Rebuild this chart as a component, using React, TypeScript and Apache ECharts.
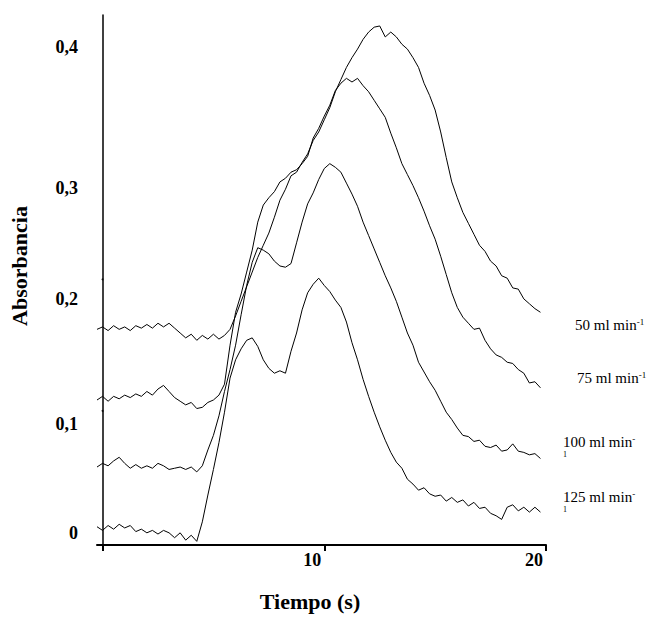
import React, { useEffect, useRef } from "react";
import * as echarts from "echarts";

// Sampling times (s)
const TIME = [
  -0.25, 0, 0.25, 0.5, 0.75, 1, 1.25, 1.5, 1.75, 2, 2.25, 2.5, 2.75, 3, 3.25, 3.5, 3.75, 4, 4.25, 4.5, 4.75,
  5, 5.25, 5.5, 5.75, 6, 6.25, 6.5, 6.75, 7, 7.25, 7.5, 7.75, 8, 8.25, 8.5, 8.75, 9, 9.25, 9.5, 9.75,
  10, 10.25, 10.5, 10.75, 11, 11.25, 11.5, 11.75, 12, 12.25, 12.5, 12.75, 13, 13.25, 13.5, 13.75, 14, 14.25, 14.5, 14.75,
  15, 15.25, 15.5, 15.75, 16, 16.25, 16.5, 16.75, 17, 17.25, 17.5, 17.75, 18, 18.25, 18.5, 18.75, 19, 19.25, 19.5, 19.75,
];

// Absorbance, 50 ml/min
const FLOW_50 = [
  0.167, 0.169, 0.166, 0.170, 0.167, 0.169, 0.166, 0.170, 0.168, 0.171,
  0.168, 0.172, 0.169, 0.172, 0.168, 0.164, 0.160, 0.163, 0.158, 0.162,
  0.159, 0.163, 0.159, 0.162, 0.167, 0.178, 0.190, 0.202, 0.214, 0.226,
  0.236, 0.246, 0.259, 0.273, 0.282, 0.293, 0.296, 0.304, 0.311, 0.322,
  0.329, 0.339, 0.349, 0.362, 0.372, 0.382, 0.390, 0.397, 0.405, 0.411,
  0.415, 0.416, 0.407, 0.411, 0.407, 0.401, 0.397, 0.390, 0.382, 0.369,
  0.359, 0.347, 0.329, 0.308, 0.288, 0.275, 0.263, 0.254, 0.245, 0.236,
  0.231, 0.223, 0.219, 0.211, 0.209, 0.201, 0.200, 0.192, 0.188, 0.184,
  0.181,
];

// Absorbance, 75 ml/min
const FLOW_75 = [
  0.109, 0.112, 0.108, 0.112, 0.110, 0.113, 0.111, 0.114, 0.112, 0.116,
  0.113, 0.118, 0.121, 0.116, 0.111, 0.108, 0.105, 0.107, 0.102, 0.103,
  0.107, 0.109, 0.113, 0.122, 0.154, 0.181, 0.196, 0.214, 0.232, 0.255,
  0.269, 0.275, 0.280, 0.288, 0.291, 0.296, 0.298, 0.303, 0.309, 0.324,
  0.332, 0.342, 0.351, 0.363, 0.369, 0.373, 0.370, 0.373, 0.367, 0.362,
  0.355, 0.348, 0.341, 0.328, 0.316, 0.303, 0.294, 0.285, 0.275, 0.264,
  0.252, 0.241, 0.227, 0.212, 0.197, 0.185, 0.177, 0.172, 0.167, 0.168,
  0.158, 0.151, 0.146, 0.144, 0.140, 0.139, 0.134, 0.131, 0.123, 0.124,
  0.119,
];

// Absorbance, 100 ml/min
const FLOW_100 = [
  0.054, 0.057, 0.055, 0.059, 0.062, 0.057, 0.053, 0.056, 0.053, 0.055,
  0.053, 0.057, 0.055, 0.052, 0.053, 0.054, 0.052, 0.054, 0.050, 0.055,
  0.068, 0.080, 0.096, 0.116, 0.134, 0.154, 0.179, 0.203, 0.222, 0.234,
  0.232, 0.229, 0.223, 0.219, 0.218, 0.221, 0.238, 0.255, 0.270, 0.279,
  0.290, 0.299, 0.303, 0.300, 0.296, 0.287, 0.278, 0.268, 0.255, 0.244,
  0.233, 0.222, 0.211, 0.201, 0.190, 0.177, 0.164, 0.154, 0.140, 0.132,
  0.124, 0.117, 0.108, 0.099, 0.093, 0.086, 0.080, 0.079, 0.075, 0.076,
  0.071, 0.070, 0.072, 0.067, 0.068, 0.073, 0.067, 0.066, 0.064, 0.065,
  0.061,
];

// Absorbance, 125 ml/min
const FLOW_125 = [
  0.005, 0.002, 0.006, 0.003, 0.007, 0.004, 0.006, 0.001, 0.003, 0.000,
  0.002, -0.001, 0.002, 0.000, -0.004, 0.000, -0.006, -0.002, -0.007, 0.009,
  0.031, 0.052, 0.074, 0.099, 0.127, 0.142, 0.151, 0.158, 0.160, 0.153,
  0.142, 0.135, 0.131, 0.133, 0.131, 0.149, 0.164, 0.183, 0.197, 0.204,
  0.209, 0.203, 0.198, 0.191, 0.185, 0.173, 0.156, 0.142, 0.126, 0.112,
  0.099, 0.087, 0.076, 0.066, 0.058, 0.053, 0.044, 0.040, 0.035, 0.037,
  0.032, 0.030, 0.031, 0.026, 0.029, 0.025, 0.027, 0.022, 0.025, 0.020,
  0.021, 0.016, 0.014, 0.011, 0.021, 0.023, 0.018, 0.021, 0.017, 0.021,
  0.017,
];

const SERIES_NAMES = ["50 ml min-1", "75 ml min-1", "100 ml min-1", "125 ml min-1"];
const X_TICKS = [0, 10, 20];
const X_TICK_LABELS = [10, 20];
const Y_TICK_POS = [0, 0.089, 0.192, 0.283, 0.399];
const Y_TICK_TEXT = ["0", "0,1", "0,2", "0,3", "0,4"];
const STRAY_DOTS = [
  [0, 0.208],
  [0, 0.1],
];

const SERIF = "'Liberation Serif', 'Times New Roman', serif";

export default function App() {
  const ref = useRef<HTMLDivElement>(null);

  useEffect(() => {
    if (!ref.current) return;
    const chart = echarts.init(ref.current, null, { renderer: "svg" });
    const zip = (ys: number[]) => TIME.map((t, i) => [t, ys[i]]);
    const all = [FLOW_50, FLOW_75, FLOW_100, FLOW_125];

    const labelRich = {
      a: { fontFamily: SERIF, fontSize: 15, lineHeight: 16, color: "#000" },
      b: { fontFamily: SERIF, fontSize: 9, lineHeight: 16, verticalAlign: "top", color: "#000" },
      c: { fontFamily: SERIF, fontSize: 8, lineHeight: 8, color: "#000" },
    };

    chart.setOption({
      animation: false,
      backgroundColor: "#fff",
      grid: { left: 97, top: 15, width: 449, height: 530, containLabel: false, outerBoundsMode: "none" },
      xAxis: {
        type: "value",
        min: -0.25,
        max: 20,
        axisLine: { show: true, onZero: false, lineStyle: { color: "#000", width: 2 } },
        axisTick: { show: true, customValues: X_TICKS, length: 6, lineStyle: { color: "#000", width: 2 } },
        axisLabel: {
          customValues: X_TICK_LABELS,
          color: "#000",
          fontFamily: SERIF,
          fontWeight: "bold",
          fontSize: 18,
          margin: 6,
          align: "right",
          padding: [0, 3, 0, 0],
        },
        splitLine: { show: false },
        name: "Tiempo (s)",
        nameLocation: "middle",
        nameGap: 45,
        nameTextStyle: {
          color: "#000",
          fontFamily: SERIF,
          fontWeight: "bold",
          fontSize: 22,
          padding: [0, 23, 0, 0],
        },
      },
      yAxis: {
        type: "value",
        min: -0.01,
        max: 0.425,
        axisLine: { show: true, lineStyle: { color: "#000", width: 1.5 } },
        axisTick: { show: false },
        axisLabel: {
          customValues: Y_TICK_POS,
          formatter: (v: number) => {
            let best = 0;
            Y_TICK_POS.forEach((p, i) => {
              if (Math.abs(p - v) < Math.abs(Y_TICK_POS[best] - v)) best = i;
            });
            return Y_TICK_TEXT[best];
          },
          color: "#000",
          fontFamily: SERIF,
          fontWeight: "bold",
          fontSize: 18,
          margin: 19,
        },
        splitLine: { show: false },
        name: "Absorbancia",
        nameLocation: "middle",
        nameRotate: 90,
        nameGap: 67,
        nameTextStyle: {
          color: "#000",
          fontFamily: SERIF,
          fontWeight: "bold",
          fontSize: 22,
          padding: [0, 0, 0, 28],
        },
      },
      series: [
        ...all.map((ys, i) => ({
          name: SERIES_NAMES[i],
          type: "line",
          data: zip(ys),
          showSymbol: false,
          symbol: "none",
          lineStyle: { color: "#000", width: 1 },
          itemStyle: { color: "#000" },
        })),
        {
          name: "marks",
          type: "scatter",
          data: STRAY_DOTS,
          symbolSize: 2,
          itemStyle: { color: "#000" },
        },
      ],
      graphic: [
        { type: "text", x: 575, y: 317, style: { text: "{a|50 ml min}{b|-1}", rich: labelRich, verticalAlign: "top" } },
        { type: "text", x: 577, y: 370, style: { text: "{a|75 ml min}{b|-1}", rich: labelRich, verticalAlign: "top" } },
        { type: "text", x: 563, y: 434, style: { text: "{a|100 ml min}{b|-}\n{c|1}", rich: labelRich, verticalAlign: "top" } },
        { type: "text", x: 563, y: 489, style: { text: "{a|125 ml min}{b|-}\n{c|1}", rich: labelRich, verticalAlign: "top" } },
      ],
    });

    return () => chart.dispose();
  }, []);

  return (
    <div
      ref={ref}
      style={{ position: "fixed", left: 0, top: 0, width: 647, height: 628, background: "#fff" }}
    />
  );
}
